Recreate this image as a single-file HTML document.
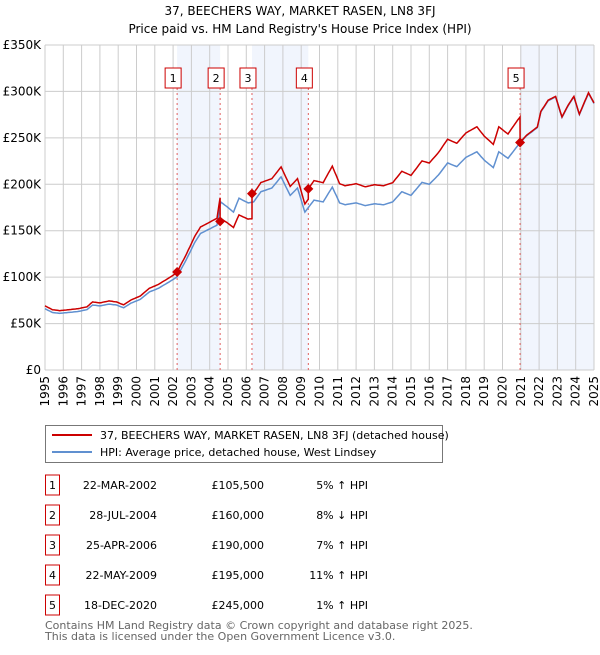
<!DOCTYPE html>
<html><head><meta charset="utf-8"><style>
body{margin:0;background:#fff;font-family:"Liberation Sans","DejaVu Sans",sans-serif;}
svg text{font-family:"DejaVu Sans","Liberation Sans",sans-serif;}
</style></head><body>
<svg id="c" width="600" height="650" xmlns="http://www.w3.org/2000/svg">
<text x="300" y="15" text-anchor="middle" font-size="12">37, BEECHERS WAY, MARKET RASEN, LN8 3FJ</text>
<text x="300" y="33" text-anchor="middle" font-size="12">Price paid vs. HM Land Registry's House Price Index (HPI)</text>
<g id="plot"></g>
<g>
<rect x="45.5" y="425.5" width="397" height="37" fill="#fff" stroke="#777"/>
<line x1="52" y1="435" x2="92" y2="435" stroke="#cc0000" stroke-width="2"/>
<text x="100" y="439" font-size="11">37, BEECHERS WAY, MARKET RASEN, LN8 3FJ (detached house)</text>
<line x1="52" y1="452" x2="92" y2="452" stroke="#6090d0" stroke-width="2"/>
<text x="100" y="456" font-size="11">HPI: Average price, detached house, West Lindsey</text>
</g>
<g id="tbl"></g>
<text x="45" y="629" font-size="11" fill="#666">Contains HM Land Registry data © Crown copyright and database right 2025.</text>
<text x="45" y="640" font-size="11" fill="#666">This data is licensed under the Open Government Licence v3.0.</text>
</svg>
<script>
const hpiYears=[1995,1995.4,1995.8,1996.3,1996.8,1997.3,1997.6,1998,1998.5,1998.9,1999.3,1999.7,2000.2,2000.7,2001.2,2001.8,2002.2,2002.7,2003.2,2003.5,2004,2004.4,2004.6,2005,2005.3,2005.6,2006.1,2006.4,2006.8,2007.4,2007.9,2008.4,2008.8,2009.2,2009.7,2010.2,2010.7,2011.1,2011.4,2012,2012.5,2013,2013.5,2014,2014.5,2015,2015.6,2016,2016.5,2017,2017.5,2018,2018.6,2019,2019.5,2019.8,2020.3,2020.85,2021.3,2021.9,2022.1,2022.5,2022.9,2023.25,2023.6,2023.9,2024.2,2024.7,2025];
const hpiValues=[66,62,61,62,63,65,70,69,71,70,67,72,76,84,88,95,100,118,138,147,152,156,181,175,170,185,180,181,192,196,208,188,196,170,183,181,197,180,178,180,177,179,178,181,192,188,202,200,210,223,219,229,235,226,218,235,228,242,252,261,278,290,294,272,285,294,275,298,287];
const saleDates=[2002.22,2004.57,2006.31,2009.39,2020.96];
const salePrices=[105.5,160,190,195,245];
const saleLabels=["22-MAR-2002","28-JUL-2004","25-APR-2006","22-MAY-2009","18-DEC-2020"];
const salePriceText=["£105,500","£160,000","£190,000","£195,000","£245,000"];
const saleHpiText=["5% ↑ HPI","8% ↓ HPI","7% ↑ HPI","11% ↑ HPI","1% ↑ HPI"];
const yTicks=[0,50,100,150,200,250,300,350];
const yTickLabels=["£0","£50K","£100K","£150K","£200K","£250K","£300K","£350K"];
const xTicks=[1995,1996,1997,1998,1999,2000,2001,2002,2003,2004,2005,2006,2007,2008,2009,2010,2011,2012,2013,2014,2015,2016,2017,2018,2019,2020,2021,2022,2023,2024,2025];

const NS="http://www.w3.org/2000/svg";
const X0=45,X1=594,Y0=370,Y1=45;
const xs=y=>X0+(y-1995)/30*(X1-X0);
const ys=v=>Y0-v/350*(Y0-Y1);
const g=document.getElementById('plot');
function mk(t,a,p){const e=document.createElementNS(NS,t);for(const k in a)e.setAttribute(k,a[k]);(p||g).appendChild(e);return e;}
function hpiAt(t){for(let i=1;i<hpiYears.length;i++){if(t<=hpiYears[i]){const f=(t-hpiYears[i-1])/(hpiYears[i]-hpiYears[i-1]);return hpiValues[i-1]+f*(hpiValues[i]-hpiValues[i-1]);}}return hpiValues[hpiValues.length-1];}
const shade=[[0,1],[2,3],[4,null]];
shade.forEach(s=>{const a=xs(saleDates[s[0]]),b=s[1]===null?X1:xs(saleDates[s[1]]);
const r=mk('rect',{x:a,y:Y1,width:b-a,height:Y0-Y1,fill:'#eef3fc',opacity:0.8});

});
xTicks.forEach(t=>{const l=mk('line',{x1:xs(t),x2:xs(t),y1:Y1,y2:Y0,stroke:'#ccc','stroke-width':1});


const px=xs(t)+4,py=Y0+6;
const tx=mk('text',{x:px,y:py,'text-anchor':'end','font-size':12,transform:`rotate(-90 ${px} ${py})`});tx.textContent=t;

});
yTicks.forEach((t,i)=>{const l=mk('line',{x1:X0,x2:X1,y1:ys(t),y2:ys(t),stroke:'#ccc','stroke-width':1});


const tx=mk('text',{x:X0-4,y:ys(t)+4,'text-anchor':'end','font-size':12});tx.textContent=yTickLabels[i];

});
saleDates.forEach((d,i)=>{const l=mk('line',{x1:xs(d),x2:xs(d),y1:Y1+43,y2:Y0,stroke:'#e06060','stroke-dasharray':'2,3','stroke-width':1});


const b=mk('rect',{x:xs(d)-12,y:68,width:16,height:20,fill:'#fff',stroke:'#cc0000'});


const t=mk('text',{x:xs(d)-4,y:82,'text-anchor':'middle','font-size':11});t.textContent=i+1;});
let pb='',pr='';
const ratios=saleDates.map((d,i)=>salePrices[i]/hpiAt(d));
const steps=[];for(let t=1995;t<=2025.001;t+=1/12)steps.push(t);
hpiYears.forEach(y=>steps.push(y));saleDates.forEach(d=>{steps.push(d-0.001);steps.push(d);});
steps.sort((a,b)=>a-b);
steps.forEach((t,k)=>{const h=hpiAt(t);let r=ratios[0];saleDates.forEach((d,i)=>{if(t>=d)r=ratios[i];});
pb+=(k?'L':'M')+xs(t).toFixed(1)+','+ys(h).toFixed(1);pr+=(k?'L':'M')+xs(t).toFixed(1)+','+ys(h*r).toFixed(1);});
const lb=mk('path',{d:pb,fill:'none',stroke:'#6090d0','stroke-width':1.5});


const lr=mk('path',{d:pr,fill:'none',stroke:'#cc0000','stroke-width':1.5});


saleDates.forEach((d,i)=>{const cx=xs(d),cy=ys(salePrices[i]);
const p=mk('path',{d:`M${cx},${cy-5}L${cx+5},${cy}L${cx},${cy+5}L${cx-5},${cy}Z`,fill:'#cc0000'});

});
const tb=document.getElementById('tbl');
saleLabels.forEach((s,i)=>{const y=483+30*i;
const r=mk('rect',{x:45.5,y:y-8,width:14,height:20,fill:'#fff',stroke:'#cc0000'},tb);


const a=mk('text',{x:52.5,y:y+6,'text-anchor':'middle','font-size':11},tb);a.textContent=i+1;
const b=mk('text',{x:157,y:y+6,'text-anchor':'end','font-size':11},tb);b.textContent=s;


const c=mk('text',{x:264,y:y+6,'text-anchor':'end','font-size':11},tb);c.textContent=salePriceText[i];


const e=mk('text',{x:368,y:y+6,'text-anchor':'end','font-size':11},tb);e.textContent=saleHpiText[i];

});
</script>
</body></html>
